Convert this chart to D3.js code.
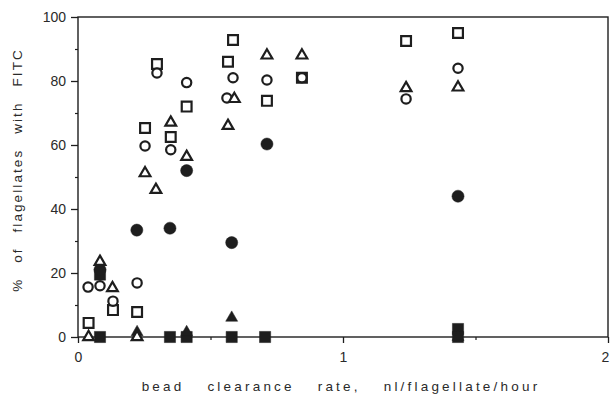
<!DOCTYPE html>
<html>
<head>
<meta charset="utf-8">
<script src="https://cdn.jsdelivr.net/npm/d3@7"></script>
<style>
  html, body { margin: 0; padding: 0; background: #fff; }
  text { font-family: "Liberation Sans", Arial, sans-serif; fill: #2a2a2a; }
</style>
</head>
<body>
<svg id="chart" width="610" height="400"></svg>
<script>
// ---- data (bead clearance rate, % of flagellates with FITC) ----
const openCircleX = [0.038, 0.083, 0.132, 0.223, 0.253, 0.298, 0.35, 0.41, 0.562, 0.585, 0.713, 0.845, 1.238, 1.434];
const openCircleY = [15.6, 16, 11.2, 16.9, 59.7, 82.5, 58.5, 79.5, 74.7, 81, 80.3, 81, 74.4, 84];

const openSquareX = [0.04, 0.132, 0.223, 0.253, 0.298, 0.35, 0.41, 0.566, 0.585, 0.713, 0.845, 1.238, 1.434];
const openSquareY = [4.4, 8.4, 7.8, 65.3, 85.3, 62.5, 72, 86, 92.8, 73.8, 81, 92.5, 95];

const openTriangleX = [0.04, 0.083, 0.13, 0.223, 0.253, 0.294, 0.35, 0.41, 0.566, 0.59, 0.713, 0.845, 1.238, 1.434];
const openTriangleY = [0, 23.5, 15.3, 0, 51.2, 46, 67, 56.3, 66, 74.4, 88, 88, 77.8, 78];

const filledCircleX = [0.083, 0.222, 0.347, 0.41, 0.58, 0.713, 1.434];
const filledCircleY = [21, 33.4, 34, 52, 29.5, 60.3, 44];

const filledSquareX = [0.083, 0.083, 0.347, 0.41, 0.58, 0.706, 1.434, 1.434];
const filledSquareY = [0, 19.5, 0, 0, 0, 0, 2.5, 0];

const filledTriangleX = [0.083, 0.223, 0.41, 0.58, 1.434];
const filledTriangleY = [22, 1.5, 1.5, 6, 0];

const xTicks = [0, 1, 2];
const xMinorTicks = [0.5, 1.5];
const yTicks = [0, 20, 40, 60, 80, 100];
const yMinorTicks = [10, 30, 50, 70, 90];

const xTitle = "bead clearance rate, nl/flagellate/hour";
const yTitle = "% of flagellates with FITC";

// ---- layout ----
const svg = d3.select("#chart");
const mLeft = 78, mRight = 608, mTop = 17, mBottom = 337;
const x = d3.scaleLinear().domain([0, 2]).range([mLeft, mRight]);
const y = d3.scaleLinear().domain([0, 100]).range([mBottom, mTop]);
const ink = "#1e1e1e";

// frame
svg.append("rect")
  .attr("x", mLeft).attr("y", mTop)
  .attr("width", mRight - mLeft).attr("height", mBottom - mTop)
  .attr("fill", "none").attr("stroke", ink).attr("stroke-width", 1.4);

// y axis
const yAxis = d3.axisLeft(y).tickValues(yTicks).tickSize(7).tickPadding(5).tickFormat(d3.format("d"));
const gy = svg.append("g").attr("transform", `translate(${mLeft},0)`).call(yAxis);
gy.select(".domain").remove();
gy.selectAll("line").attr("stroke", ink).attr("stroke-width", 1.3);
gy.selectAll("text").style("font-size", "14px").attr("fill", "#333");
const gyMinor = svg.append("g").attr("transform", `translate(${mLeft},0)`)
  .call(d3.axisLeft(y).tickValues(yMinorTicks).tickSize(3).tickFormat(""));
gyMinor.select(".domain").remove();
gyMinor.selectAll("line").attr("stroke", ink).attr("stroke-width", 1.2);

// x axis
const xAxis = d3.axisBottom(x).tickValues(xTicks).tickSize(6).tickPadding(9).tickFormat(d3.format("d"));
const gx = svg.append("g").attr("transform", `translate(0,${mBottom})`).call(xAxis);
gx.select(".domain").remove();
gx.selectAll("line").attr("stroke", ink).attr("stroke-width", 1.3);
gx.selectAll("text").style("font-size", "14px").attr("fill", "#333")
  .attr("dx", d => d === xTicks[xTicks.length - 1] ? -3 : 0);
const gxMinor = svg.append("g").attr("transform", `translate(0,${mBottom})`)
  .call(d3.axisBottom(x).tickValues(xMinorTicks).tickSize(3).tickFormat(""));
gxMinor.select(".domain").remove();
gxMinor.selectAll("line").attr("stroke", ink).attr("stroke-width", 1.2);

// axis titles
svg.append("text")
  .attr("x", 341).attr("y", 391)
  .attr("text-anchor", "middle")
  .style("font-size", "13.5px")
  .style("letter-spacing", "3.2px")
  .style("word-spacing", "16px")
  .text(xTitle);

svg.append("text")
  .attr("transform", `translate(22,170) rotate(-90)`)
  .attr("text-anchor", "middle")
  .style("font-size", "13.5px")
  .style("letter-spacing", "2.1px")
  .style("word-spacing", "9px")
  .text(yTitle);

// ---- markers ----
function zip(xs, ys) { return xs.map((v, i) => ({x: v, y: ys[i]})); }
const plot = svg.append("g");

function drawSeries(xs, ys, type, filled) {
  let sym, size;
  if (type === "circle") { sym = d3.symbolCircle; size = filled ? 115 : 68; }
  if (type === "square") { sym = d3.symbolSquare; size = filled ? 125 : 96; }
  if (type === "triangle") { sym = d3.symbolTriangle; size = filled ? 62 : 50; }
  plot.append("g").selectAll("path")
    .data(zip(xs, ys))
    .join("path")
    .attr("transform", d => `translate(${x(d.x)},${y(d.y)})`)
    .attr("d", d3.symbol(sym, size))
    .attr("fill", filled ? ink : "#fff")
    .attr("stroke", ink)
    .attr("stroke-width", filled ? 0.5 : 2.2);
}

drawSeries(filledSquareX, filledSquareY, "square", true);
drawSeries(filledTriangleX, filledTriangleY, "triangle", true);
drawSeries(filledCircleX, filledCircleY, "circle", true);
drawSeries(openSquareX, openSquareY, "square", false);
drawSeries(openCircleX, openCircleY, "circle", false);
drawSeries(openTriangleX, openTriangleY, "triangle", false);
</script>
</body>
</html>
